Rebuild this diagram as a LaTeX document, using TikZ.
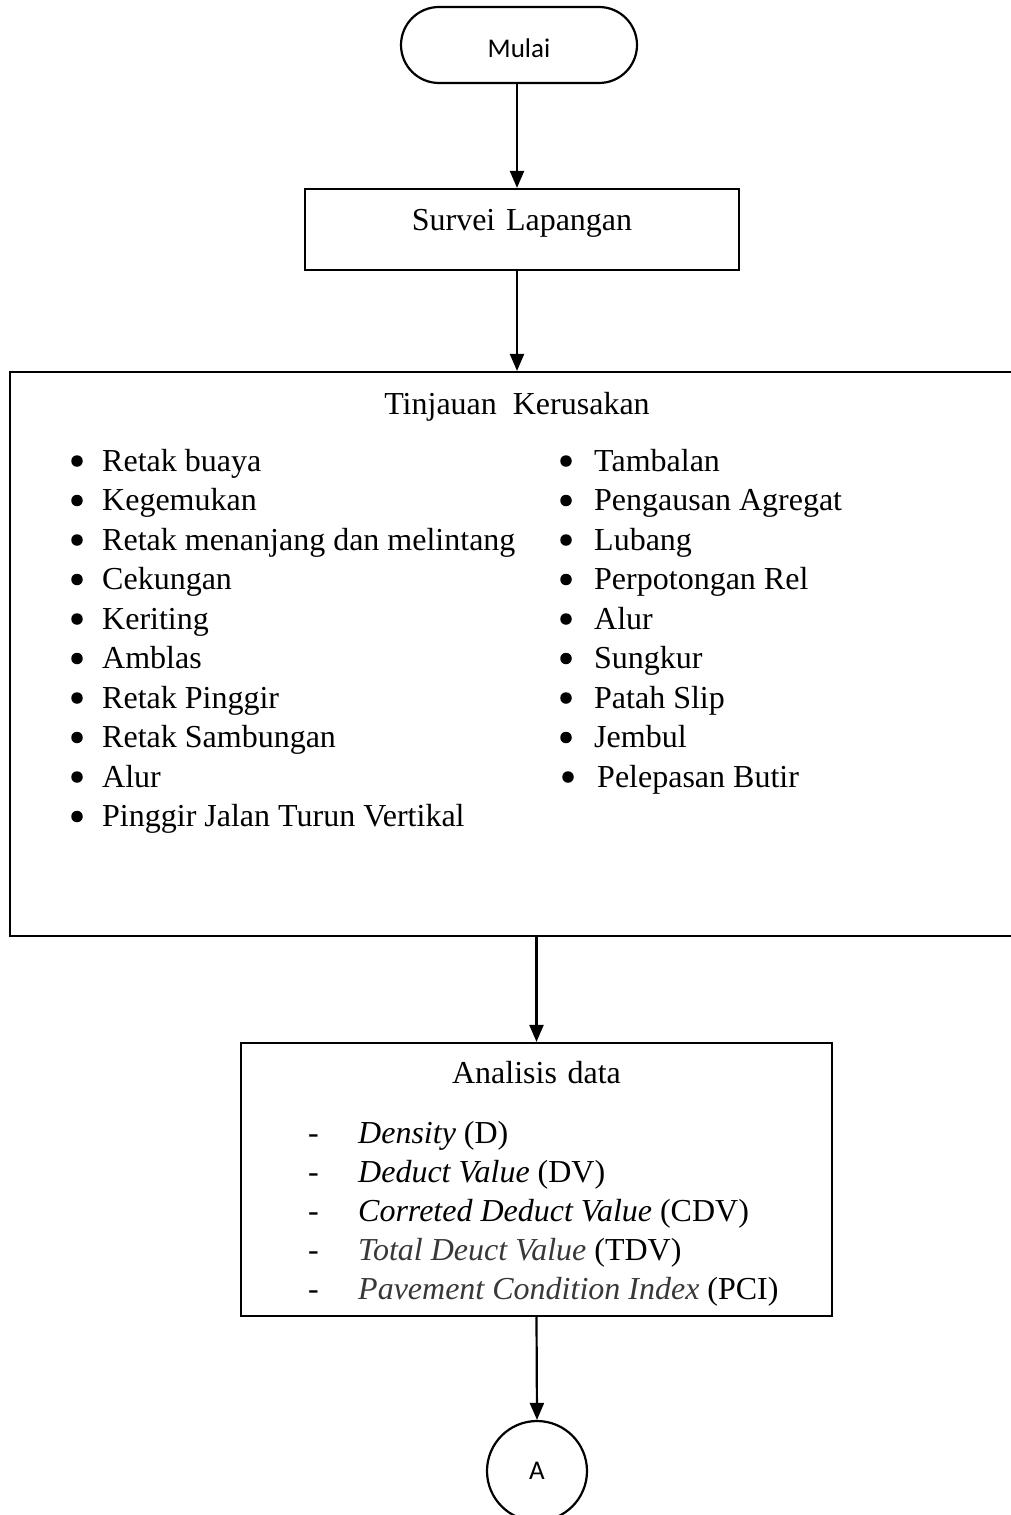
\documentclass[tikz,border=0pt]{standalone}
\usepackage{fontspec}
\setmainfont{Liberation Serif}
\newfontfamily\calib{Carlito}
\usetikzlibrary{arrows.meta}
\begin{document}
\begin{tikzpicture}[x=1pt,y=-1pt,
  box/.style={draw,line width=2.2pt,inner sep=0pt},
  arr/.style={line width=2.2pt,-{Triangle[width=14pt,length=17pt]}},
  txt/.style={inner sep=0pt,anchor=base west,font=\fontsize{32}{38}\selectfont},
  ctxt/.style={inner sep=0pt,anchor=base,font=\fontsize{32}{38}\selectfont},
  dot/.style={fill=black,draw=none,circle,inner sep=0pt,minimum size=11.5pt}]
\useasboundingbox (0,0) rectangle (1011,1515);

% start
\node[box,rounded corners=38pt,minimum width=236pt,text height=50pt,text depth=26pt,anchor=base,
      font=\calib\fontsize{27}{32}\selectfont] (mulai) at (519,57) {Mulai};

% survei
\node[box,text width=434pt,align=center,text height=41pt,text depth=40pt,anchor=base,
      font=\fontsize{32}{38}\selectfont] (survei) at (522,230) {Survei Lapangan};

% tinjauan
\node[box,minimum width=1003pt,minimum height=564pt] (rusak) at (511.5,654) {};
\node[ctxt] (rusakT) at (517,414) {Tinjauan\ \ Kerusakan};

\foreach \t [count=\i] in {Retak buaya,Kegemukan,Retak menanjang dan melintang,Cekungan,Keriting,Amblas,Retak Pinggir,Retak Sambungan,Alur,Pinggir Jalan Turun Vertikal}{
  \pgfmathsetmacro{\yy}{471+39.5*(\i-1)}
  \node[dot] (lb\i) at (77,\yy-10) {};
  \node[txt] (l\i) at (102,\yy) {\t};
}
\foreach \t [count=\i] in {Tambalan,Pengausan Agregat,Lubang,Perpotongan Rel,Alur,Sungkur,Patah Slip,Jembul}{
  \pgfmathsetmacro{\yy}{471+39.5*(\i-1)}
  \node[dot] (rb\i) at (566,\yy-10) {};
  \node[txt] (r\i) at (594,\yy) {\t};
}
\node[dot] (rb9) at (568,777) {};
\node[txt] (r9) at (597,787) {Pelepasan Butir};

% analisis
\node[box,text width=591pt,align=center,text height=40pt,text depth=233pt,anchor=base,
      font=\fontsize{32}{38}\selectfont] (anal) at (536.5,1083) {Analisis data};
\foreach \t [count=\i] in {{\textit{Density} (D)},{\textit{Deduct Value} (DV)},{\textit{Correted Deduct Value} (CDV)},{\textcolor{black!78}{\textit{Total Deuct Value}} (TDV)},{\textcolor{black!78}{\textit{Pavement Condition Index}} (PCI)}}{
  \pgfmathsetmacro{\yy}{1143+39*(\i-1)}
  \node[txt] (ad\i) at (308,\yy) {-};
  \node[txt] (a\i) at (358,\yy) {\t};
}

% connector A
\node[draw,line width=2.2pt,circle,minimum size=100pt,inner sep=0pt,
      font=\calib\fontsize{27}{32}\selectfont] (A) at (537,1471) {A};

% arrows
\draw[arr] ([xshift=-2pt]mulai.south) -- ([xshift=-2pt]mulai.south |- survei.north);
\draw[arr] ([xshift=-5pt]survei.south) -- ([xshift=-5pt]survei.south |- rusak.north);
\draw[arr] (anal.north |- rusak.south) -- (anal.north);
\draw[arr] (anal.south) -- (A.north);
\end{tikzpicture}
\end{document}
